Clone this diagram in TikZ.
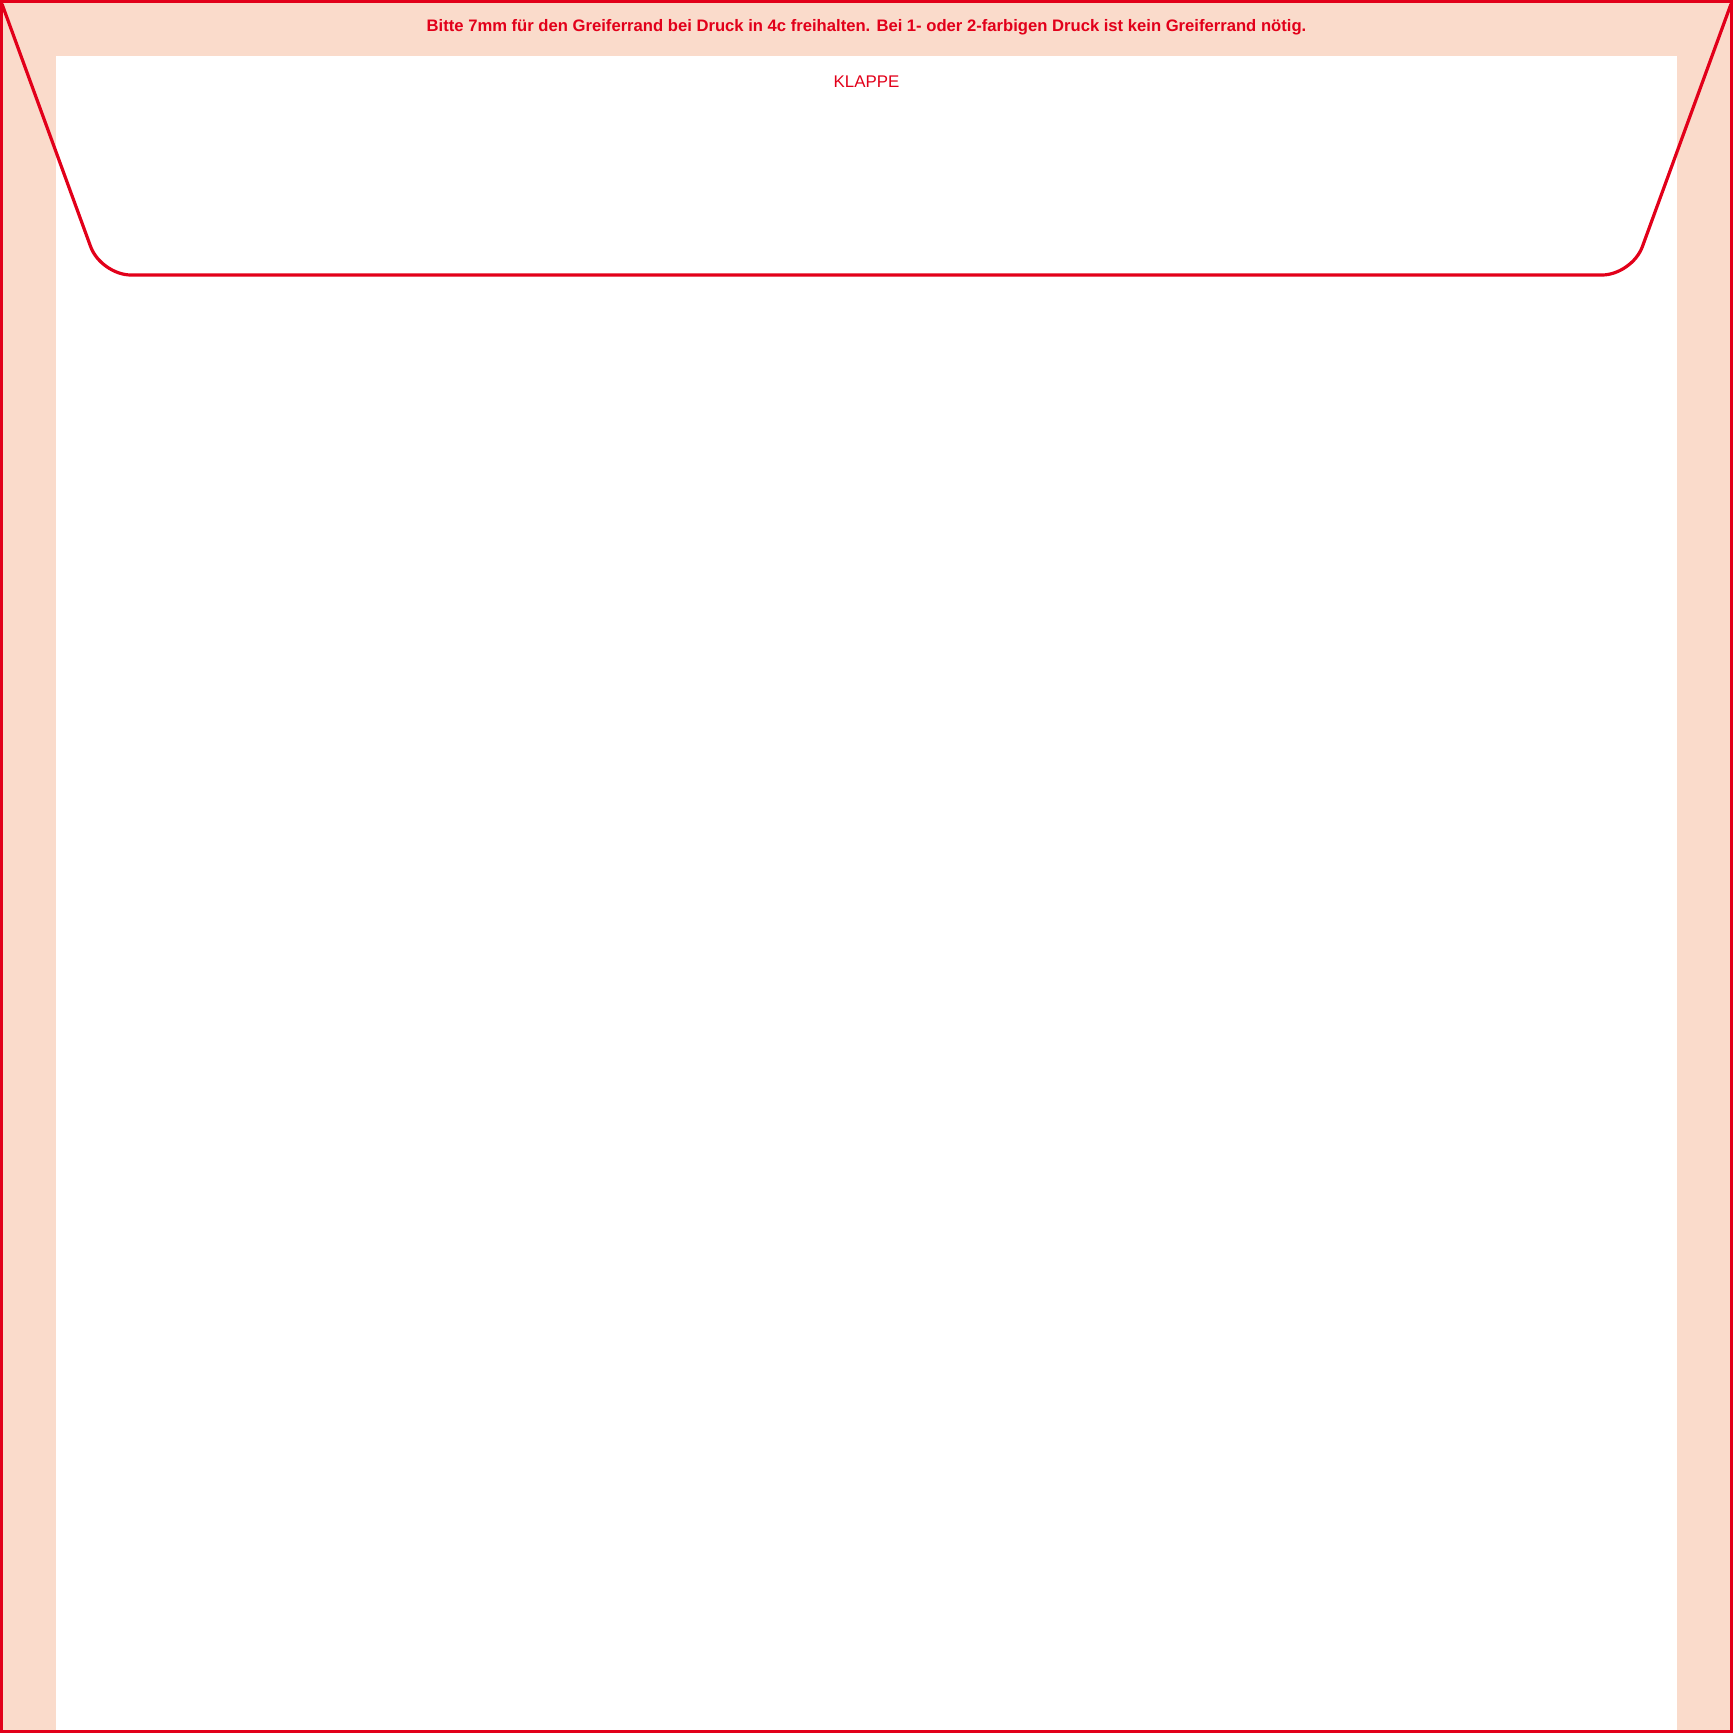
\documentclass[tikz,border=0pt]{standalone}
\usepackage{fontspec}
\setmainfont{Liberation Sans}
\definecolor{FRAME}{HTML}{E2001A}
\definecolor{MARGIN}{HTML}{FADBCB}

\begin{document}
\begin{tikzpicture}[x=0.01cm, y=-0.01cm, every node/.style={text=FRAME, font=\fontsize{4.8pt}{5.5pt}\selectfont, inner sep=0pt}]
				\useasboundingbox (0,0) rectangle (1733,1733);
				% Greiferrand
				\fill [MARGIN] (0,0) rectangle (1733,1733);
				\fill [white] (56,56) rectangle (1677,1733);
				\draw [FRAME, line width=0.03cm] (1.5,1.5) rectangle (1731.5,1731.5);

				% Klappe
				\draw [FRAME, line width=0.032cm, rounded corners=0.3cm] (2,4) -- (101,275) -- (1632,275) -- (1731,4);

				\node [font=\fontsize{4.73pt}{5.5pt}\selectfont\bfseries] (hinweis) at (866.5,27) {Bitte 7mm für den Greiferrand bei Druck in 4c freihalten. Bei 1- oder 2-farbigen Druck ist kein Greiferrand nötig.};
				\node [] (klappe) at (866.5,82) {KLAPPE};
			\end{tikzpicture}
\end{document}
